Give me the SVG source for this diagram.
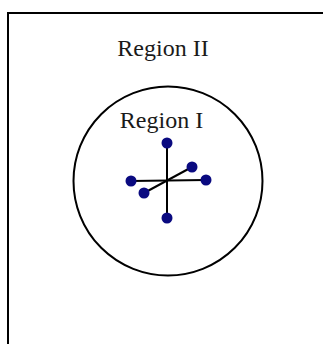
<svg xmlns="http://www.w3.org/2000/svg" width="323" height="344" viewBox="0 0 323 344">
<style>
.lbl{font-family:"Liberation Serif","Times New Roman",serif;font-size:24px;fill:#1a1a1a;text-anchor:middle}
.ln{stroke:#000;stroke-width:2;fill:none}
.dot{fill:#0a0a80}
</style>
<rect width="323" height="344" fill="#fff"/>
<g id="frame"><rect x="8" y="13" width="330" height="350" class="ln"/></g>
<g id="region2"><text x="163" y="56" class="lbl">Region II</text></g>
<g id="region1"><circle cx="168" cy="181" r="94.5" class="ln"/><text x="161.5" y="128" class="lbl">Region I</text></g>
<g id="connectors">
<line x1="167" y1="143" x2="167" y2="218" class="ln"/>
<line x1="131" y1="181" x2="206" y2="180" class="ln"/>
<line x1="144" y1="193" x2="192" y2="167" class="ln"/>
</g>
<g id="atoms">
<circle cx="167" cy="143" r="5.5" class="dot"/>
<circle cx="167" cy="218" r="5.5" class="dot"/>
<circle cx="131" cy="181" r="5.5" class="dot"/>
<circle cx="206" cy="180" r="5.5" class="dot"/>
<circle cx="192" cy="167" r="5.5" class="dot"/>
<circle cx="144" cy="193" r="5.5" class="dot"/>
</g>
</svg>
